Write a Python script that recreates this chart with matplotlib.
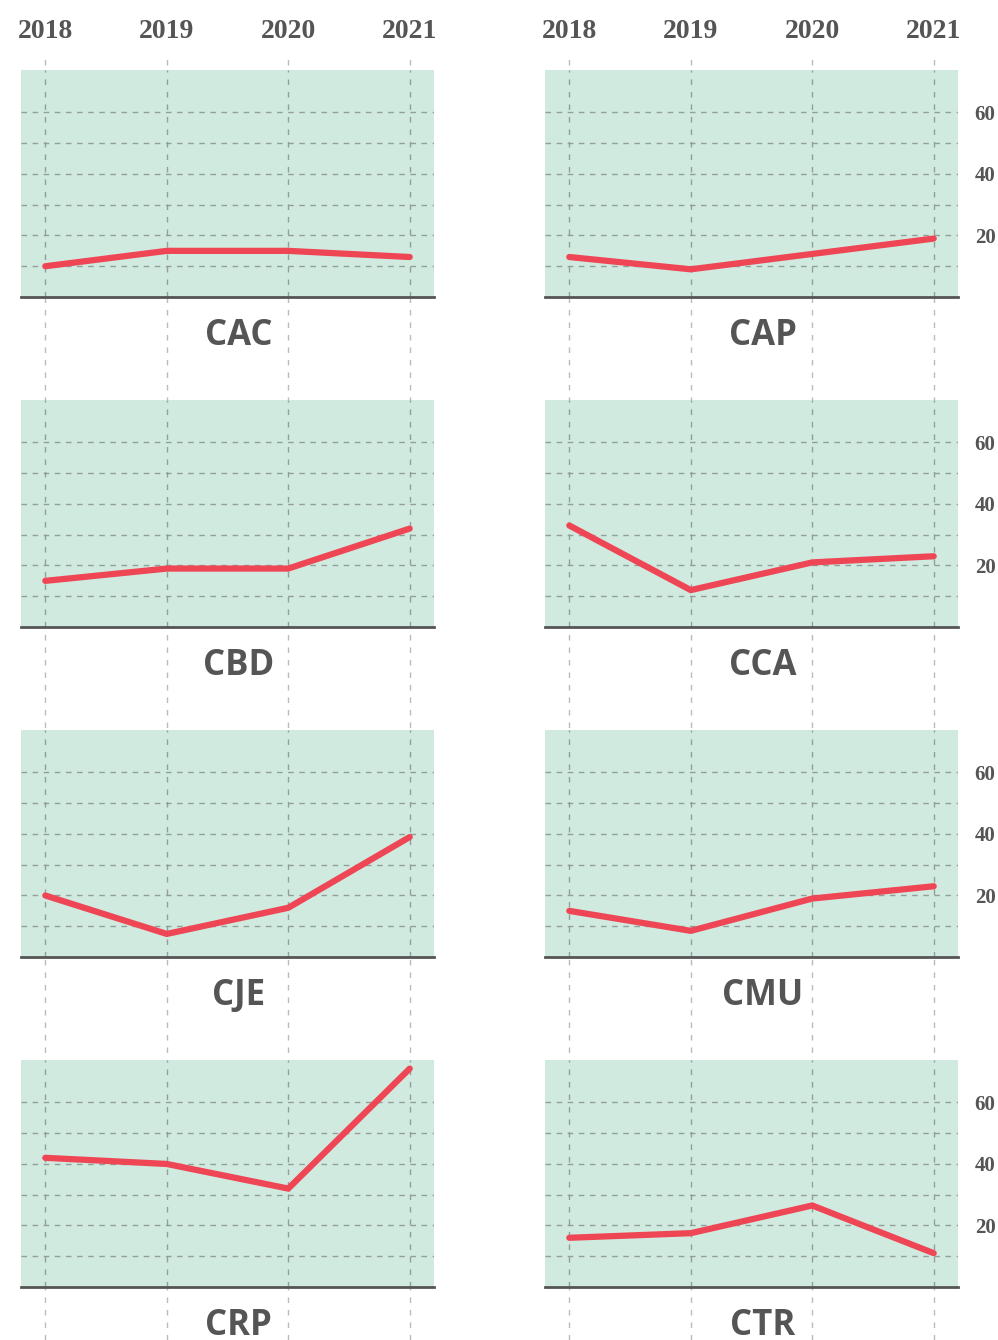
import matplotlib
matplotlib.use("Agg")
import matplotlib.pyplot as plt
import matplotlib.transforms as mtransforms

years = [2018, 2019, 2020, 2021]
names = ["CAC", "CAP", "CBD", "CCA", "CJE", "CMU", "CRP", "CTR"]
cac = [10, 15, 15, 13]
cap = [13, 9, 14, 19]
cbd = [15, 19, 19, 32]
cca = [33, 12, 21, 23]
cje = [20, 7.5, 16, 39]
cmu = [15, 8.5, 19, 23]
crp = [42, 40, 32, 71]
ctr = [16, 17.5, 26.5, 11]
series = [cac, cap, cbd, cca, cje, cmu, crp, ctr]
grid_vals = [10, 20, 30, 40, 50, 60]
ytick_vals = [20, 40, 60]

W, H = 998, 1340
fig = plt.figure(figsize=(W / 100, H / 100), dpi=100)

BG = "#d0eadf"
RED = "#ef4655"
GRAY = "#555555"
GRID = "#929e99"
VGRID = "#bbbbbb"

col_x = [21, 545]
pw, ph = 413, 227
row_top = [70, 400, 730, 1060]
xlim = (2017.8, 2021.2)
ylim = (0, 73.8)

# background full-height vertical dashed lines per column
for cx in col_x:
    bg = fig.add_axes([cx / W, 0, pw / W, (H - 55) / H], zorder=0)
    bg.set_xlim(*xlim)
    bg.set_ylim(0, 1)
    bg.axis("off")
    for yr in years:
        bg.axvline(yr, color=VGRID, lw=1, ls=(0, (4, 5)))
    trans = mtransforms.blended_transform_factory(bg.transData, fig.transFigure)
    for yr in years:
        bg.text(yr, 1 - 31 / H, str(yr), transform=trans, ha="center", va="center",
                fontsize=20, fontweight="bold", family="Liberation Serif", color=GRAY)

for i, (name, vals) in enumerate(zip(names, series)):
    r, c = divmod(i, 2)
    top = row_top[r]
    ax = fig.add_axes([col_x[c] / W, 1 - (top + ph) / H, pw / W, ph / H], zorder=2)
    ax.set_facecolor(BG)
    ax.set_xlim(*xlim)
    ax.set_ylim(*ylim)
    for s in ["top", "left", "right"]:
        ax.spines[s].set_visible(False)
    ax.spines["bottom"].set_color(GRAY)
    ax.spines["bottom"].set_linewidth(2)
    for g in grid_vals:
        ax.axhline(g, color=GRID, lw=1, ls=(0, (4, 4)), zorder=1)
    for yr in years:
        ax.axvline(yr, color=GRID, lw=1, ls=(0, (4, 5)), zorder=1)
    ax.plot(years, vals, color=RED, lw=4.5, solid_capstyle="round",
            solid_joinstyle="miter", zorder=3)
    ax.set_xticks([])
    if c == 1:
        ax.yaxis.tick_right()
        ax.set_yticks(ytick_vals)
        ax.set_yticklabels([str(v) for v in ytick_vals], family="Liberation Serif",
                           fontweight="bold", fontsize=15, color=GRAY)
        ax.tick_params(axis="y", length=0, pad=12)
    else:
        ax.set_yticks([])
    cx = col_x[c] + pw / 2 + 11
    fig.text(cx / W, 1 - (top + ph + 39) / H, name, ha="center", va="center",
             fontsize=25, fontweight="bold", family="Open Sans", color=GRAY)

fig.savefig("out.png", dpi=100)
